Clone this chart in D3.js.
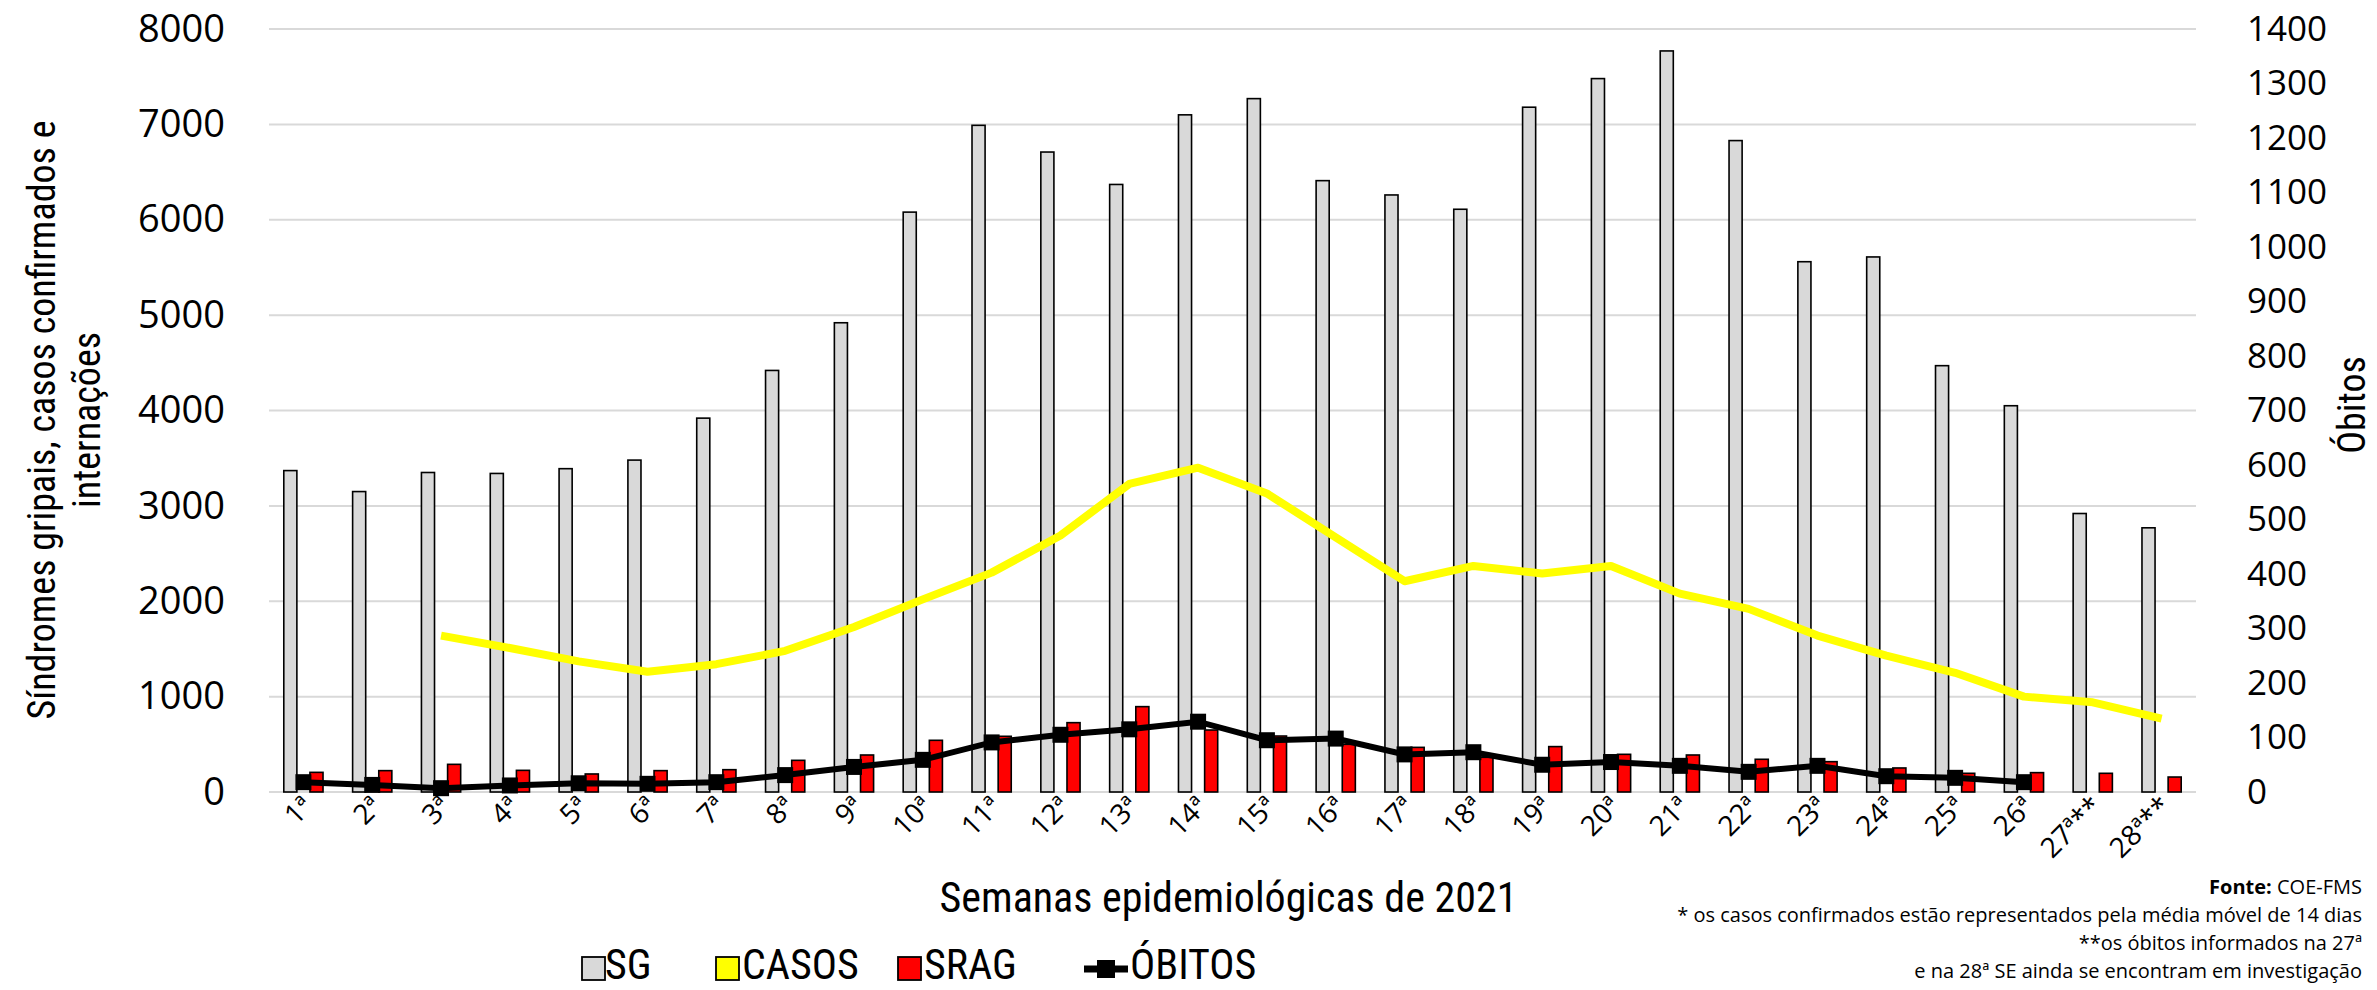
<!DOCTYPE html>
<html><head><meta charset="utf-8">
<script src="https://cdn.jsdelivr.net/npm/d3@7"></script>
<style>
html,body{margin:0;padding:0;background:#fff;}
svg{display:block;}
</style></head>
<body>
<svg id="chart" width="2377" height="990"></svg>
<script>
const weeks = ["1ª","2ª","3ª","4ª","5ª","6ª","7ª","8ª","9ª","10ª","11ª","12ª","13ª","14ª","15ª","16ª","17ª","18ª","19ª","20ª","21ª","22ª","23ª","24ª","25ª","26ª","27ª**","28ª**"];
const sg = [3370,3150,3350,3340,3390,3480,3920,4420,4920,6080,6990,6710,6370,7100,7270,6410,6260,6110,7180,7480,7770,6830,5560,5610,4470,4050,2920,2770];
const srag = [206,224,290,227,189,224,234,332,388,542,584,727,895,650,587,500,468,364,476,395,388,343,318,252,196,203,196,157];
const casos = [null,null,1640,1510,1370,1260,1340,1480,1730,2020,2300,2690,3230,3400,3130,2670,2210,2370,2290,2370,2080,1920,1640,1430,1250,1000,940,770];
const obitos = [18,13,7,12,16,15,18,31,46,59,91,105,115,129,95,98,69,73,50,55,48,37,48,29,26,18,null,null];
const leftTicks = [0,1000,2000,3000,4000,5000,6000,7000,8000];
const rightTicks = [0,100,200,300,400,500,600,700,800,900,1000,1100,1200,1300,1400];

const svg = d3.select("#chart");
const L = 269, R = 2196, T = 29, B = 792;
const x = d3.scaleBand().domain(weeks).range([L, R]);
const yL = d3.scaleLinear().domain([0, 8000]).range([B, T]);
const yR = d3.scaleLinear().domain([0, 1400]).range([B, T]);
const bw = x.bandwidth() * 0.19;
const off = x.bandwidth() * 0.19;
const cx = d => x(d) + x.bandwidth() / 2;

const numFont = "'Open Sans', sans-serif";
const condFont = "'Liberation Sans Narrow', 'Roboto Condensed', sans-serif";

// gridlines
svg.append("g").selectAll("line").data(leftTicks).join("line")
  .attr("x1", L).attr("x2", R).attr("y1", d => yL(d)).attr("y2", d => yL(d))
  .attr("stroke", "#d9d9d9").attr("stroke-width", 2);

// left axis
const gl = svg.append("g").attr("transform", `translate(${L},0)`)
  .call(d3.axisLeft(yL).tickValues(leftTicks).tickSize(0).tickPadding(44).tickFormat(d3.format("d")));
gl.select(".domain").remove();
gl.selectAll("text").attr("font-family", numFont).attr("font-size", 38).attr("fill", "#000");

// right axis
const gr = svg.append("g").attr("transform", `translate(${R},0)`)
  .call(d3.axisRight(yR).tickValues(rightTicks).tickSize(0).tickPadding(51).tickFormat(d3.format("d")));
gr.select(".domain").remove();
gr.selectAll("text").attr("font-family", numFont).attr("font-size", 35).attr("fill", "#000");

// x axis labels
const gx = svg.append("g").attr("transform", `translate(0,${B})`)
  .call(d3.axisBottom(x).tickSize(0).tickPadding(0));
gx.select(".domain").remove();
gx.selectAll("text")
  .attr("font-family", numFont).attr("font-size", 28).attr("fill", "#000")
  .attr("text-anchor", "end").attr("dy", 0).attr("y", 0)
  .attr("transform", "translate(11,16) rotate(-45)");

// bars
svg.append("g").selectAll("rect").data(weeks).join("rect")
  .attr("x", (d) => cx(d) - off - bw / 2)
  .attr("y", (d, i) => yL(sg[i])).attr("width", bw).attr("height", (d, i) => B - yL(sg[i]))
  .attr("fill", "#d9d9d9").attr("stroke", "#000").attr("stroke-width", 1.6);
svg.append("g").selectAll("rect").data(weeks).join("rect")
  .attr("x", (d) => cx(d) + off - bw / 2)
  .attr("y", (d, i) => yL(srag[i])).attr("width", bw).attr("height", (d, i) => B - yL(srag[i]))
  .attr("fill", "#ff0000").attr("stroke", "#000").attr("stroke-width", 1.6);

// casos line
const casosPts = weeks.map((w, i) => [cx(w), casos[i]]).filter(p => p[1] != null);
svg.append("path").datum(casosPts)
  .attr("d", d3.line().x(p => p[0]).y(p => yL(p[1])))
  .attr("fill", "none").attr("stroke", "#ffff00").attr("stroke-width", 8).attr("stroke-linejoin", "round");

// obitos line
const obPts = weeks.map((w, i) => [cx(w), obitos[i]]).filter(p => p[1] != null);
svg.append("path").datum(obPts)
  .attr("d", d3.line().x(p => p[0]).y(p => yR(p[1])))
  .attr("fill", "none").attr("stroke", "#000").attr("stroke-width", 6);
const ms = 16;
svg.append("g").selectAll("rect").data(obPts).join("rect")
  .attr("x", p => p[0] - ms / 2).attr("y", p => yR(p[1]) - ms / 2)
  .attr("width", ms).attr("height", ms).attr("fill", "#000");

// axis titles
svg.append("text").attr("transform", "translate(55,420) rotate(-90)")
  .attr("text-anchor", "middle").attr("font-family", condFont).attr("font-size", 38)
  .text("Síndromes gripais, casos  confirmados e");
svg.append("text").attr("transform", "translate(100,420) rotate(-90)")
  .attr("text-anchor", "middle").attr("font-family", condFont).attr("font-size", 38)
  .text("internações");
svg.append("text").attr("transform", "translate(2365,405) rotate(-90)")
  .attr("text-anchor", "middle").attr("font-family", condFont).attr("font-size", 38)
  .text("Óbitos");
svg.append("text").attr("x", (L + R) / 2 - 4).attr("y", 912)
  .attr("text-anchor", "middle").attr("font-family", condFont).attr("font-size", 42)
  .text("Semanas epidemiológicas  de 2021");

// legend
const leg = svg.append("g").attr("font-family", condFont).attr("font-size", 42);
const legItems = [
  {name: "SG", fill: "#d9d9d9", sx: 582, tx: 605},
  {name: "CASOS", fill: "#ffff00", sx: 716, tx: 742},
  {name: "SRAG", fill: "#ff0000", sx: 898, tx: 924},
];
legItems.forEach(it => {
  leg.append("rect").attr("x", it.sx).attr("y", 957).attr("width", 23).attr("height", 23)
    .attr("fill", it.fill).attr("stroke", "#000").attr("stroke-width", 1.8);
  leg.append("text").attr("x", it.tx).attr("y", 979).text(it.name);
});
leg.append("line").attr("x1", 1084).attr("x2", 1128).attr("y1", 969).attr("y2", 969)
  .attr("stroke", "#000").attr("stroke-width", 7);
leg.append("rect").attr("x", 1097).attr("y", 960).attr("width", 18).attr("height", 18).attr("fill", "#000");
leg.append("text").attr("x", 1130).attr("y", 979).text("ÓBITOS");

// footnotes
const fn = svg.append("g").attr("font-family", numFont).attr("font-size", 20).attr("text-anchor", "end");
const f0 = fn.append("text").attr("x", 2362).attr("y", 894);
f0.append("tspan").attr("font-weight", "bold").text("Fonte:");
f0.append("tspan").text(" COE-FMS");
fn.append("text").attr("x", 2362).attr("y", 922).text("* os casos confirmados  estão representados pela média móvel de 14 dias");
fn.append("text").attr("x", 2362).attr("y", 950).text("**os óbitos informados na 27ª");
fn.append("text").attr("x", 2362).attr("y", 978).text("e na 28ª SE  ainda se encontram em investigação");
</script>
</body></html>
